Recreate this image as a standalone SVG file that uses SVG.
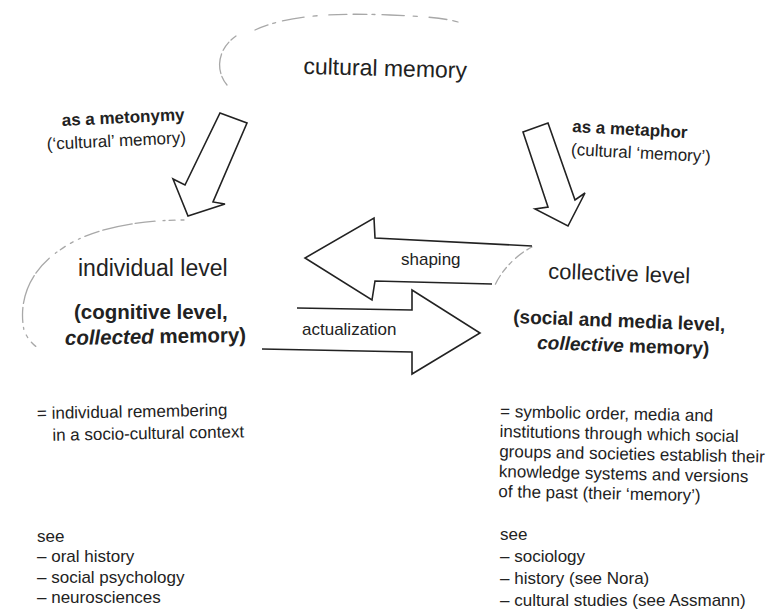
<svg xmlns="http://www.w3.org/2000/svg" width="770" height="614" viewBox="0 0 770 614">
<style>
text { font-family: "Liberation Sans", Arial, sans-serif; fill: #222; }
.big { font-size: 23px; }
.body { font-size: 17px; }
.b { font-weight: bold; }
.bi { font-weight: bold; font-style: italic; }
.arrow { fill: #fff; stroke: #222; stroke-width: 1.6; stroke-linejoin: miter; }
.open { fill: none; stroke: #222; stroke-width: 1.6; stroke-linejoin: miter; }
.faint { fill: none; stroke: #a8a8a8; stroke-width: 1.3; stroke-linecap: round; }
</style>
<rect width="770" height="614" fill="#fff"/>

<g id="cultural-memory">
  <path class="faint" d="M227,85 C216,72 216,50 236,36" stroke-dasharray="10 3 20 4"/>
  <path class="faint" d="M255,30 C290,14 340,13 390,15 C420,16 445,18 458,22" stroke="#bdbdbd" stroke-width="1" stroke-dasharray="14 5 3 7 22 9 4 12 18 6"/>
  <text class="big" x="385" y="76" text-anchor="middle" transform="rotate(1.5 385 76)">cultural memory</text>
</g>

<g id="individual-level">
  <path class="faint" d="M184,220 C140,220 90,228 60,250 C30,270 18,300 24,330 C27,338 32,344 38,348" stroke-dasharray="3 6 6 4 2 8 20 3 30 4 15 5 2 6"/>
  <text class="big" x="78" y="276">individual level</text>
  <text class="b" x="74" y="319" font-size="20.5">(cognitive level,</text>
  <text x="65" y="345" font-size="20.5" transform="rotate(-1 65 345)"><tspan class="bi">collected</tspan><tspan class="b"> memory)</tspan></text>
  <text class="body" x="37" y="419" transform="rotate(-1 37 419)">= individual remembering</text>
  <text class="body" x="52" y="441" transform="rotate(-1 37 419)">in a socio-cultural context</text>
  <text class="body" x="37" y="542">see</text>
  <text class="body" x="37" y="562">– oral history</text>
  <text class="body" x="37" y="583">– social psychology</text>
  <text class="body" x="37" y="603">– neurosciences</text>
</g>

<g id="collective-level">
  <path class="faint" d="M532,247 C518,254 503,268 495,285" stroke-width="1.1" stroke-dasharray="6 4 10 5 4 4"/>
  <text x="619" y="281" font-size="22" text-anchor="middle" transform="rotate(2 619 281)">collective level</text>
  <text class="b" x="513" y="323" font-size="19" transform="rotate(2.2 513 323)">(social and media level,</text>
  <text x="537" y="349" font-size="19" transform="rotate(2 537 349)"><tspan class="bi">collective</tspan><tspan class="b"> memory)</tspan></text>
  <g transform="rotate(1.2 500 417)">
    <text class="body" x="500" y="417" font-size="16.7">= symbolic order, media and</text>
    <text class="body" x="500" y="437" font-size="16.7">institutions through which social</text>
    <text class="body" x="500" y="457" font-size="16.7">groups and societies establish their</text>
    <text class="body" x="500" y="477" font-size="16.7">knowledge systems and versions</text>
    <text class="body" x="500" y="497" font-size="16.7">of the past (their ‘memory’)</text>
  </g>
  <text class="body" x="500" y="540" font-size="16.7">see</text>
  <text class="body" x="500" y="562" font-size="16.7">– sociology</text>
  <text class="body" x="500" y="584" font-size="16.7">– history (see Nora)</text>
  <text class="body" x="500" y="606" font-size="16.7">– cultural studies (see Assmann)</text>
</g>

<g id="connectors">
  <g id="metonymy">
    <polygon class="arrow" points="220,113 247,123 213,202 225,204 188,216 173,179 185,185"/>
    <g transform="rotate(-2.7 62 126)">
      <text class="body b" x="62" y="126" font-size="17.5">as a metonymy</text>
      <text class="body" x="46" y="149" font-size="17.5">(‘cultural’ memory)</text>
    </g>
  </g>
  <g id="metaphor">
    <polygon class="arrow" points="523,132 548,123 575,200 585,193 568,226 535,209 548,207"/>
    <g transform="rotate(3 572 132)">
      <text class="body b" x="572" y="132" font-size="17">as a metaphor</text>
      <text class="body" x="572" y="155" font-size="17">(cultural ‘memory’)</text>
    </g>
  </g>
  <g id="shaping">
    <path class="open" d="M532,246 L375,238 L374,218 L305,258 L372,300 L375,281 L492,284"/>
    <text class="body" x="401" y="265">shaping</text>
  </g>
  <g id="actualization">
    <path class="open" d="M297,308 L412,310 L412,290 L480,333 L412,374 L412,352 L262,349"/>
    <text class="body" x="302" y="335">actualization</text>
  </g>
</g>
</svg>
